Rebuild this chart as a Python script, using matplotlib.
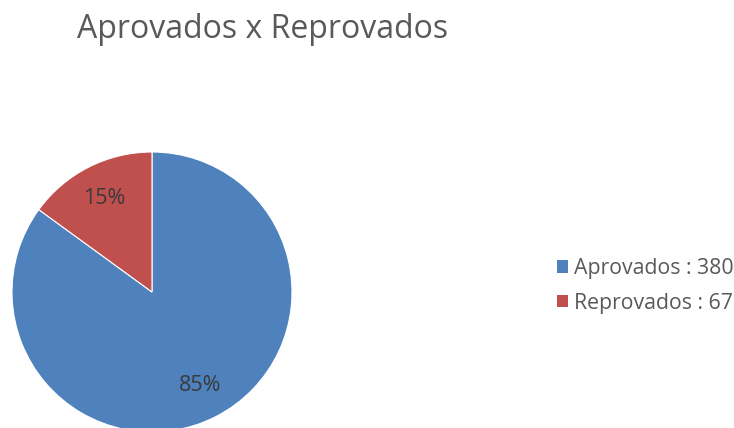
import matplotlib
matplotlib.use("Agg")
import matplotlib.pyplot as plt
from matplotlib.patches import Patch

# Resultado da turma
categorias = ["Aprovados", "Reprovados"]
quantidades = [380, 67]
cores = ["#4F81BD", "#C0504D"]

plt.rcParams["font.family"] = ["Open Sans", "DejaVu Sans"]

W, H, dpi = 734, 428, 100
fig = plt.figure(figsize=(W / dpi, H / dpi), dpi=dpi)
ax = fig.add_axes([0, 0, 1, 1])

# pizza com raio 140 px, centro em (152, 292) px
r = 140
cx, cy = 152, 292
ax.pie(quantidades, colors=cores, startangle=90, counterclock=False,
       radius=1, autopct="%.0f%%", pctdistance=0.75,
       wedgeprops=dict(edgecolor="white", linewidth=0.8),
       textprops=dict(color="#3a3a3a", fontsize=15.5))
ax.set_xlim(-cx / r, (W - cx) / r)
ax.set_ylim(-(H - cy) / r, cy / r)
ax.set_aspect("auto")
ax.axis("off")

fig.text(263 / W, 1 - 29 / H, "Aprovados x Reprovados", ha="center", va="center",
         fontsize=23, color="#595959")

handles = [Patch(facecolor=c, edgecolor="none") for c in cores]
labels = [f"{n} : {q}" for n, q in zip(categorias, quantidades)]
fig.legend(handles, labels, loc="center left", bbox_to_anchor=(538 / W, 1 - 286 / H),
           frameon=False, fontsize=15.3, labelcolor="#595959", handlelength=0.5,
           handleheight=0.5, handletextpad=0.3, labelspacing=0.65)

fig.savefig("out.png", dpi=dpi)
